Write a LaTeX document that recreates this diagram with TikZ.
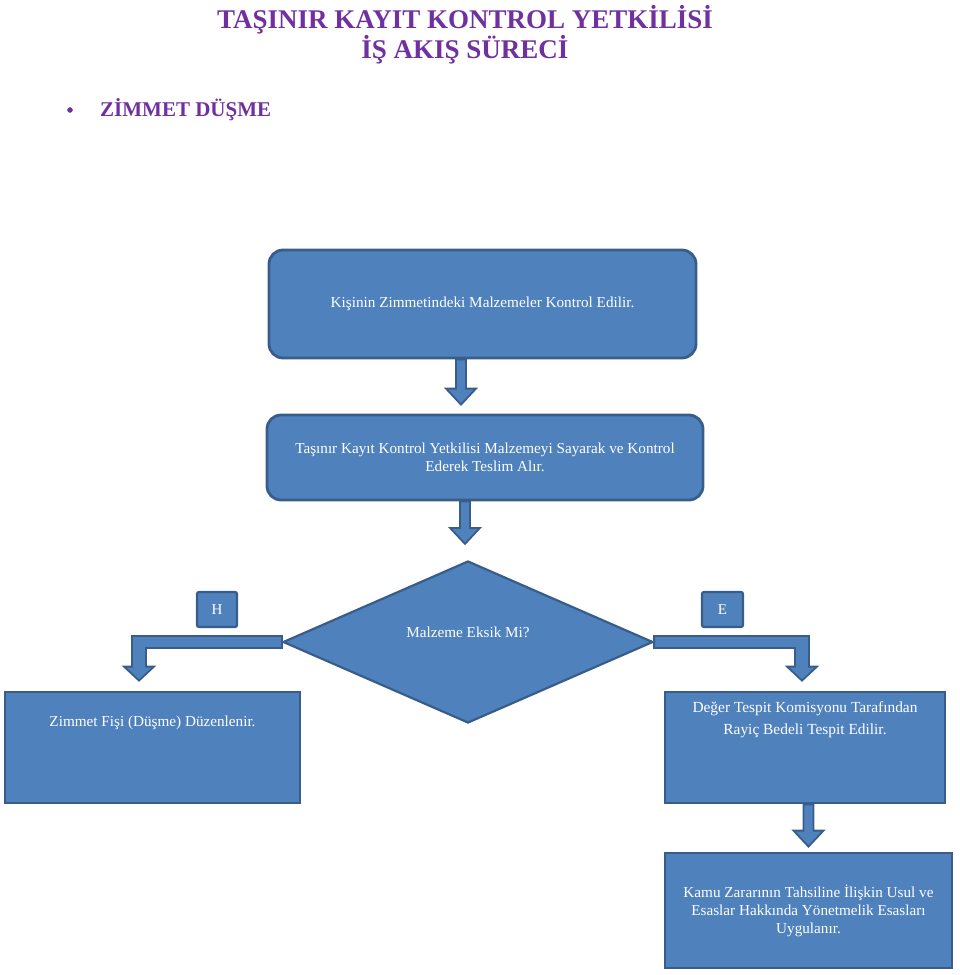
\documentclass[tikz,border=0pt]{standalone}
\usepackage{fontspec}
\setmainfont{Liberation Serif}
\usepackage{tikz}
\usetikzlibrary{calc}
\usetikzlibrary{shapes, positioning}
\definecolor{boxblue}{HTML}{4F81BD}
\definecolor{boxline}{HTML}{385D8A}
\definecolor{titlepurple}{HTML}{7030A0}
\tikzset{
  bluebox/.style={draw=boxline, fill=boxblue, line width=2.8pt, text=white, align=center, inner sep=0pt},
  boxtext/.style={text=white, align=center, font=\fontsize{15.2}{18}\selectfont},
  blockarrow/.style={draw=boxline, fill=boxblue, line width=1.8pt, line join=miter},
  titletext/.style={text=titlepurple, font=\bfseries\fontsize{27}{30}\selectfont, align=center}
}
% down block arrow from #1 to the tip #2
\newcommand\blockdown[2]{%
  \filldraw[blockarrow] ($(#1)+(-5,0)$) -- ($(#2)+(-5,-16)$) -- ($(#2)+(-15,-16)$)
    -- (#2) -- ($(#2)+(15,-16)$) -- ($(#2)+(5,-16)$) -- ($(#1)+(5,0)$) -- cycle;}

\begin{document}
\begin{tikzpicture}[x=1pt, y=-1pt]
\useasboundingbox (0,0) rectangle (960,975);
% title
\node[titletext] (title) at (465,35) {TAŞINIR KAYIT KONTROL YETKİLİSİ\\İŞ AKIŞ SÜRECİ};
\filldraw [titlepurple] (70,110) circle (2.5pt);
\node[titletext, anchor=west, inner sep=0pt, font=\bfseries\fontsize{21}{24}\selectfont] (sub) at (100,110) {ZİMMET DÜŞME};

% boxes
\node[bluebox, rounded corners=14pt, minimum width=427, minimum height=108, boxtext] (kisi) at (482.5,304)
  {Kişinin Zimmetindeki Malzemeler Kontrol Edilir.};
\node[bluebox, rounded corners=14pt, minimum width=436, minimum height=85, boxtext] (teslim) at (485,457.5)
  {Taşınır Kayıt Kontrol Yetkilisi Malzemeyi Sayarak ve Kontrol\\Ederek Teslim Alır.};
\node[bluebox, diamond, minimum width=370, minimum height=162, line width=2.2pt] (eksik) at (468,642) {};
\node[boxtext] (eksiktxt) at (468,632) {Malzeme Eksik Mi?};
\node[bluebox, rounded corners=2pt, minimum width=40, minimum height=35, line width=2.2pt, font=\fontsize{15}{16}\selectfont] (hayir) at (217,609.5) {H};
\node[bluebox, rounded corners=2pt, minimum width=41, minimum height=35, line width=2.2pt, font=\fontsize{15}{16}\selectfont] (evet) at (722.5,609.5) {E};

\node[bluebox, minimum width=295, minimum height=111] (fis) at (152.5,747.5) {};
\node[boxtext, below=22pt of fis.north] (fistxt) {Zimmet Fişi (Düşme) Düzenlenir.};
\node[bluebox, minimum width=280, minimum height=111] (deger) at (805,747.5) {};
\node[boxtext, below=8pt of deger.north, font=\fontsize{15.4}{22}\selectfont] (degertxt)
  {Değer Tespit Komisyonu Tarafından\\Rayiç Bedeli Tespit Edilir.};
\node[bluebox, minimum width=287, minimum height=115, boxtext] (kamu) at (808.5,910.5)
  {Kamu Zararının Tahsiline İlişkin Usul ve\\Esaslar Hakkında Yönetmelik Esasları\\Uygulanır.};

% block arrows
\coordinate (a1s) at ($(kisi.south -| eksik.north)+(-7,0)$);
\coordinate (a1e) at ($(teslim.north -| a1s)+(0,-9)$);
\blockdown{a1s}{a1e}
\coordinate (a2s) at ($(teslim.south -| eksik.north)+(-3,0)$);
\coordinate (a2e) at ($(eksik.north -| a2s)+(0,-16)$);
\blockdown{a2s}{a2e}
\coordinate (a3s) at (deger.south -| kamu.north);
\coordinate (a3e) at ($(kamu.north)+(0,-5)$);
\blockdown{a3s}{a3e}

% elbow arrows
\coordinate (lc) at (eksik.west -| 139,0);
\coordinate (lt) at ($(lc |- fis.north)+(0,-10)$);
\filldraw[blockarrow] ($(eksik.west)+(0,-6)$) -- ($(lc)+(-7,-6)$) -- ($(lt)+(-7,-14)$) -- ($(lt)+(-15,-14)$)
  -- (lt) -- ($(lt)+(15,-14)$) -- ($(lt)+(7,-14)$) -- ($(lc)+(7,6)$) -- ($(eksik.west)+(0,6)$) -- cycle;
\coordinate (rc) at (eksik.east -| 802,0);
\coordinate (rt) at ($(rc |- deger.north)+(0,-10)$);
\filldraw[blockarrow] ($(eksik.east)+(0,-6)$) -- ($(rc)+(7,-6)$) -- ($(rt)+(7,-14)$) -- ($(rt)+(15,-14)$)
  -- (rt) -- ($(rt)+(-15,-14)$) -- ($(rt)+(-7,-14)$) -- ($(rc)+(-7,6)$) -- ($(eksik.east)+(0,6)$) -- cycle;
\end{tikzpicture}
\end{document}
